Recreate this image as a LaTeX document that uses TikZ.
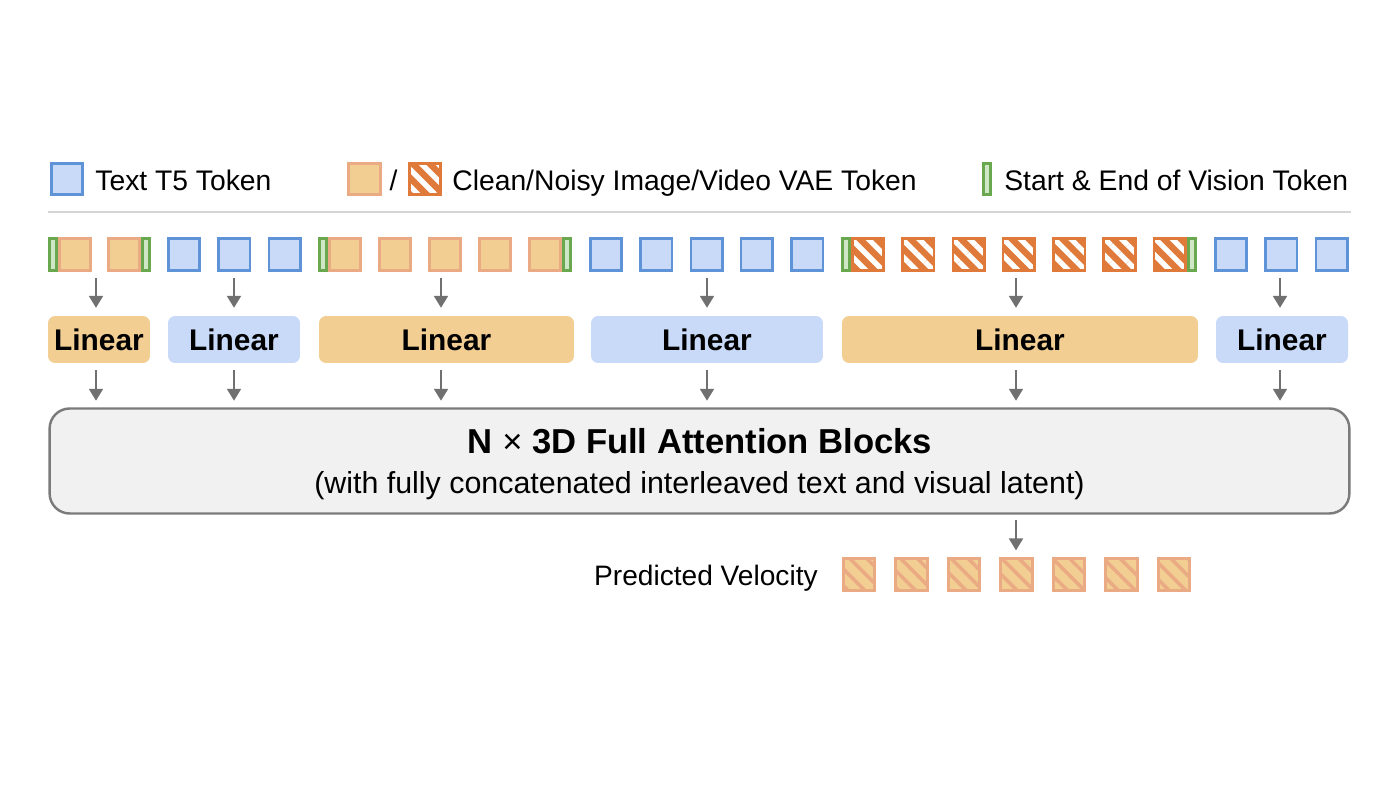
\documentclass[tikz,border=0pt]{standalone}
\usepackage{fontspec}
\setmainfont{Liberation Sans}
\usetikzlibrary{arrows.meta}
\usetikzlibrary{patterns.meta}

\definecolor{tokblue}{HTML}{C9DAF8}
\definecolor{tokedge}{HTML}{5F93D8}
\definecolor{cleanfill}{HTML}{F2CE93}
\definecolor{cleanedge}{HTML}{EAAA83}
\definecolor{noisyfill}{HTML}{E07A3A}
\definecolor{visfill}{HTML}{CFE7C6}
\definecolor{visedge}{HTML}{6AA84F}
\definecolor{blockfill}{HTML}{F1F1F1}
\definecolor{blockedge}{HTML}{7B7B7B}
\definecolor{arrgray}{HTML}{707070}
\definecolor{sepgray}{HTML}{D5D5D5}

\begin{document}
\begin{tikzpicture}[x=0.02cm,y=-0.02cm,
  tok/.style={draw,line width=1.5pt,minimum size=0.63cm,inner sep=0pt},
  txt/.style={tok,draw=tokedge,fill=tokblue},
  clean/.style={tok,draw=cleanedge,fill=cleanfill},
  noisy/.style={tok,draw=noisyfill,preaction={fill=noisyfill},pattern={Lines[angle=-45,distance=6.8pt,line width=3pt]},pattern color=white},
  pred/.style={tok,draw=cleanedge,preaction={fill=cleanfill},pattern={Lines[angle=-45,distance=6.8pt,line width=2pt]},pattern color=cleanedge},
  vis/.style={draw=visedge,fill=visfill,line width=1.5pt,minimum width=0.15cm,minimum height=0.63cm,inner sep=0pt},
  lin/.style={rounded corners=4pt,minimum height=0.94cm,inner sep=0pt,font=\fontsize{17}{20}\selectfont\bfseries},
  arr/.style={-{Triangle[length=6.8pt,width=7.8pt]},line width=1.5pt,draw=arrgray},
  lab/.style={font=\fontsize{16.1}{19}\selectfont,inner sep=0pt}
]
\useasboundingbox (0,0) rectangle (1390,790);

% legend
\node[txt] (legtxt) at (67,179) {};
\node[lab,anchor=base west] (legtxtl) at (95,191) {Text T5 Token};
\node[clean] (legclean) at (364.5,179) {};
\node[lab,anchor=base] (legslash) at (393.5,191) {/};
\node[noisy] (legnoisy) at (425,179) {};
\node[lab,anchor=base west] (legvael) at (452,191) {Clean/Noisy Image/Video VAE Token};
\node[vis] (legvis) at (987,179) {};
\node[lab,anchor=base west] (legvisl) at (1004,191) {Start \& End of Vision Token};

\draw[sepgray,line width=1.7pt] (48,212) -- (1351,212);

% token row
\node[clean] (a1) at (75,254.5) {};
\node[clean] (a2) at (124,254.5) {};
\node[vis] (as) at (53,254.5) {};
\node[vis] (ae) at (146,254.5) {};
\foreach \i in {0,1,2}
  \node[txt] (b\i) at (184+50.3*\i,254.5) {};
\foreach \i in {0,...,4}
  \node[clean] (c\i) at (345+50*\i,254.5) {};
\node[vis] (cs) at (323,254.5) {};
\node[vis] (ce) at (567,254.5) {};
\foreach \i in {0,...,4}
  \node[txt] (d\i) at (606+50.3*\i,254.5) {};
\foreach \i in {0,...,6}
  \node[noisy] (e\i) at (868+50.3*\i,254.5) {};
\node[vis] (es) at (846,254.5) {};
\node[vis] (ee) at (1192,254.5) {};
\foreach \i in {0,1,2}
  \node[txt] (f\i) at (1231+50.3*\i,254.5) {};

% linear layers
\node[lin,fill=cleanfill,minimum width=2.04cm] (l1) at (99,339.5) {Linear};
\node[lin,fill=tokblue,minimum width=2.64cm] (l2) at (234,339.5) {Linear};
\node[lin,fill=cleanfill,minimum width=5.1cm] (l3) at (446.5,339.5) {Linear};
\node[lin,fill=tokblue,minimum width=4.64cm] (l4) at (707,339.5) {Linear};
\node[lin,fill=cleanfill,minimum width=7.12cm] (l5) at (1020,339.5) {Linear};
\node[lin,fill=tokblue,minimum width=2.64cm] (l6) at (1282,339.5) {Linear};

% attention blocks
\node[draw=blockedge,fill=blockfill,line width=1.4pt,rounded corners=0.4cm,
  minimum width=26cm,minimum height=2.1cm] (blk) at (699.5,461) {};
\node[anchor=base,inner sep=0pt,font=\fontsize{19.7}{23}\selectfont\bfseries] (ttl) at (700,454)
  {N {\mdseries×} 3D Full Attention Blocks};
\node[lab,anchor=base,font=\fontsize{17.3}{20}\selectfont] (sub) at (699.5,494)
  {(with fully concatenated interleaved text and visual latent)};

% arrows
\coordinate (p1) at (96,278);
\coordinate (p2) at (234,278);
\coordinate (p3) at (441,278);
\coordinate (p4) at (707,278);
\coordinate (p5) at (1016,278);
\coordinate (p6) at (1280,278);
\foreach \k/\l in {1/l1,2/l2,3/l3,4/l4,5/l5,6/l6}{
  \draw[arr,shorten >=0.156cm] (p\k) -- (p\k |- \l.north);
  \draw[arr,shorten <=0.14cm,shorten >=0.13cm] (p\k |- \l.south) -- (p\k |- blk.north);
}

% output
\node[lab,anchor=base east,font=\fontsize{16}{19}\selectfont] (vel) at (818,585) {Predicted Velocity};
\foreach \i in {0,...,6}
  \node[pred] (v\i) at (859+52.5*\i,574.5) {};
\draw[arr,shorten <=0.1cm,shorten >=0.14cm] (p5 |- blk.south) -- (p5 |- v3.north);

\end{tikzpicture}
\end{document}
